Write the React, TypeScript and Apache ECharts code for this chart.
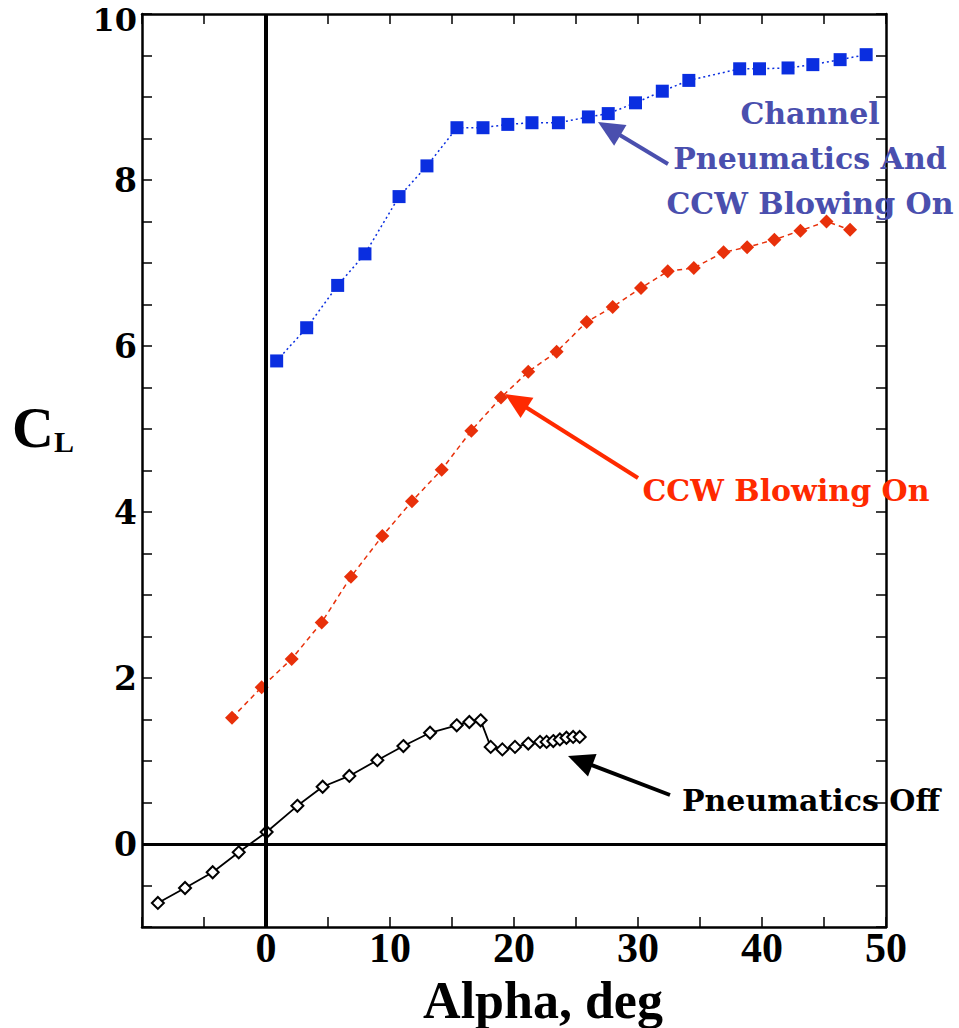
import React, { useEffect, useRef } from "react";
import * as echarts from "echarts";

// Pneumatics Off
const offAlpha = [-8.72, -6.53, -4.3, -2.2, 0.05, 2.53, 4.57, 6.72, 8.98, 11.08, 13.23, 15.38, 16.4, 17.31, 18.12, 19.06, 20.08, 21.15, 22.1, 22.63, 23.17, 23.7, 24.23, 24.77, 25.3];
const offCL = [-0.71, -0.53, -0.34, -0.1, 0.145, 0.46, 0.69, 0.82, 1.01, 1.18, 1.34, 1.43, 1.47, 1.49, 1.17, 1.14, 1.17, 1.21, 1.23, 1.23, 1.24, 1.26, 1.28, 1.29, 1.29];

// CCW Blowing On
const ccwAlpha = [-2.74, -0.35, 2.07, 4.49, 6.85, 9.38, 11.77, 14.17, 16.56, 18.95, 21.15, 23.44, 25.86, 27.96, 30.24, 32.4, 34.5, 36.9, 38.8, 41.0, 43.1, 45.2, 47.1];
const ccwCL = [1.52, 1.89, 2.23, 2.67, 3.22, 3.71, 4.13, 4.51, 4.98, 5.38, 5.69, 5.93, 6.29, 6.47, 6.7, 6.9, 6.94, 7.13, 7.19, 7.28, 7.39, 7.5, 7.4];

// Channel Pneumatics And CCW Blowing On
const chAlpha = [0.86, 3.28, 5.78, 7.98, 10.73, 12.98, 15.4, 17.5, 19.5, 21.45, 23.58, 26.0, 27.6, 29.8, 31.96, 34.1, 38.2, 39.8, 42.1, 44.1, 46.3, 48.4];
const chCL = [5.82, 6.22, 6.73, 7.11, 7.8, 8.17, 8.63, 8.63, 8.67, 8.69, 8.69, 8.76, 8.8, 8.93, 9.07, 9.2, 9.34, 9.34, 9.35, 9.39, 9.45, 9.51];

const xLabels = [0, 10, 20, 30, 40, 50];
const yLabels = [0, 2, 4, 6, 8, 10];

const zip = (a: number[], b: number[]) => a.map((v, i) => [v, b[i]]);

function arrow(tail: [number, number], tip: [number, number], color: string) {
  const dx = tip[0] - tail[0];
  const dy = tip[1] - tail[1];
  const len = Math.hypot(dx, dy);
  const ux = dx / len;
  const uy = dy / len;
  const L = 26;
  const w = 12;
  const bx = tip[0] - ux * L;
  const by = tip[1] - uy * L;
  return [
    {
      type: "line",
      shape: { x1: tail[0], y1: tail[1], x2: bx + ux * 4, y2: by + uy * 4 },
      style: { stroke: color, lineWidth: 4 },
      z: 100,
    },
    {
      type: "polygon",
      shape: {
        points: [
          [tip[0], tip[1]],
          [bx - uy * w, by + ux * w],
          [bx + uy * w, by - ux * w],
        ],
      },
      style: { fill: color },
      z: 100,
    },
  ];
}

export default function App() {
  const ref = useRef<HTMLDivElement>(null);
  useEffect(() => {
    if (!ref.current) return;
    const chart = echarts.init(ref.current, null, { renderer: "svg" });
    const serif = "'Liberation Serif', 'Times New Roman', serif";
    const wide = "'DejaVu Serif', serif";
    const blueText = "#4a4fae";
    const redText = "#ff2a00";
    const axisCommon = {
      type: "value" as const,
      axisLine: { show: true, onZero: false, lineStyle: { color: "#000", width: 2.5 } },
      splitLine: { show: false },
    };
    const yMax = yLabels[yLabels.length - 1];
    chart.setOption({
      animation: false,
      backgroundColor: "#fff",
      grid: { left: 142, right: 73, top: 14, bottom: 101, containLabel: false, outerBoundsMode: "none" },
      xAxis: [
        {
          ...axisCommon,
          min: -10,
          max: 50,
          interval: 5,
          position: "bottom",
          axisTick: { show: true, inside: true, length: 10, lineStyle: { color: "#000", width: 1.5 } },
          axisLabel: {
            margin: 4,
            fontFamily: serif,
            fontWeight: "bold",
            fontSize: 42,
            lineHeight: 34,
            color: "#000",
            formatter: (v: number) => (xLabels.includes(v) ? String(v) : ""),
          },
        },
        {
          ...axisCommon,
          min: -10,
          max: 50,
          interval: 5,
          position: "top",
          axisTick: { show: true, inside: true, length: 10, lineStyle: { color: "#000", width: 1.5 } },
          axisLabel: { show: false },
        },
      ],
      yAxis: [
        {
          ...axisCommon,
          min: -1,
          max: 10,
          interval: 0.5,
          position: "left",
          axisTick: { show: true, inside: true, length: 10, lineStyle: { color: "#000", width: 1.5 } },
          axisLabel: {
            margin: 5,
            fontFamily: wide,
            fontWeight: "bold",
            fontSize: 33,
            lineHeight: 24,
            color: "#000",
            formatter: (v: number) =>
              v === yMax ? `{top|${v}}` : yLabels.includes(v) ? String(v) : "",
            rich: {
              top: {
                fontFamily: wide,
                fontWeight: "bold",
                fontSize: 32,
                lineHeight: 24,
                color: "#000",
                padding: [12, 0, 0, 0],
              },
            },
          },
        },
        {
          ...axisCommon,
          min: -1,
          max: 10,
          interval: 0.5,
          position: "right",
          axisTick: { show: true, inside: true, length: 10, lineStyle: { color: "#000", width: 1.5 } },
          axisLabel: { show: false },
        },
      ],
      series: [
        {
          type: "line",
          name: "zero",
          data: [],
          silent: true,
          markLine: {
            silent: true,
            symbol: "none",
            label: { show: false },
            data: [
              { xAxis: 0, lineStyle: { color: "#000", width: 4, type: "solid" } },
              { yAxis: 0, lineStyle: { color: "#000", width: 3, type: "solid" } },
            ],
          },
        },
        {
          type: "line",
          name: "Channel Pneumatics And CCW Blowing On",
          data: zip(chAlpha, chCL),
          symbol: "rect",
          symbolSize: 13,
          itemStyle: { color: "#0a2ee0" },
          lineStyle: { color: "#0a2ee0", width: 1.5, type: [2, 3] },
          z: 3,
        },
        {
          type: "line",
          name: "CCW Blowing On",
          data: zip(ccwAlpha, ccwCL),
          symbol: "diamond",
          symbolSize: 14,
          itemStyle: { color: "#e8300a" },
          lineStyle: { color: "#e8300a", width: 1.5, type: [5, 4] },
          z: 3,
        },
        {
          type: "line",
          name: "Pneumatics Off",
          data: zip(offAlpha, offCL),
          symbol: "diamond",
          symbolSize: 12,
          showAllSymbol: true,
          itemStyle: { color: "#fff", borderColor: "#000", borderWidth: 2 },
          lineStyle: { color: "#000", width: 1.8 },
          z: 4,
        },
      ],
      graphic: [
        {
          type: "text",
          x: 12,
          y: 398,
          style: {
            text: "{c|C}{l|L}",
            rich: {
              c: { fontFamily: serif, fontWeight: "bold", fontSize: 58, fill: "#000" },
              l: { fontFamily: serif, fontWeight: "bold", fontSize: 30, fill: "#000", verticalAlign: "bottom", padding: [26, 0, 0, 0] },
            },
          },
        },
        {
          type: "text",
          x: 543,
          y: 1000,
          style: {
            text: "Alpha, deg",
            fontFamily: serif,
            fontWeight: "bold",
            fontSize: 52,
            lineHeight: 44,
            fill: "#000",
            align: "center",
            verticalAlign: "middle",
          },
        },
        {
          type: "text",
          x: 810,
          y: 158,
          z: 100,
          style: {
            text: "Channel\nPneumatics And\nCCW Blowing On",
            fontFamily: wide,
            fontWeight: "bold",
            fontSize: 30,
            lineHeight: 45,
            fill: blueText,
            align: "center",
            verticalAlign: "middle",
          },
        },
        {
          type: "text",
          x: 786,
          y: 490,
          z: 100,
          style: {
            text: "CCW Blowing On",
            fontFamily: wide,
            fontWeight: "bold",
            fontSize: 30,
            fill: redText,
            align: "center",
            verticalAlign: "middle",
          },
        },
        {
          type: "text",
          x: 811,
          y: 800,
          z: 100,
          style: {
            text: "Pneumatics Off",
            fontFamily: wide,
            fontWeight: "bold",
            fontSize: 30,
            fill: "#000",
            align: "center",
            verticalAlign: "middle",
          },
        },
        ...arrow([668, 164], [598, 122], blueText),
        ...arrow([638, 478], [505, 394], redText),
        ...arrow([670, 795], [568, 756], "#000"),
      ],
    });
    return () => chart.dispose();
  }, []);
  return <div ref={ref} style={{ position: "fixed", left: 0, top: 0, width: 959, height: 1028 }} />;
}
